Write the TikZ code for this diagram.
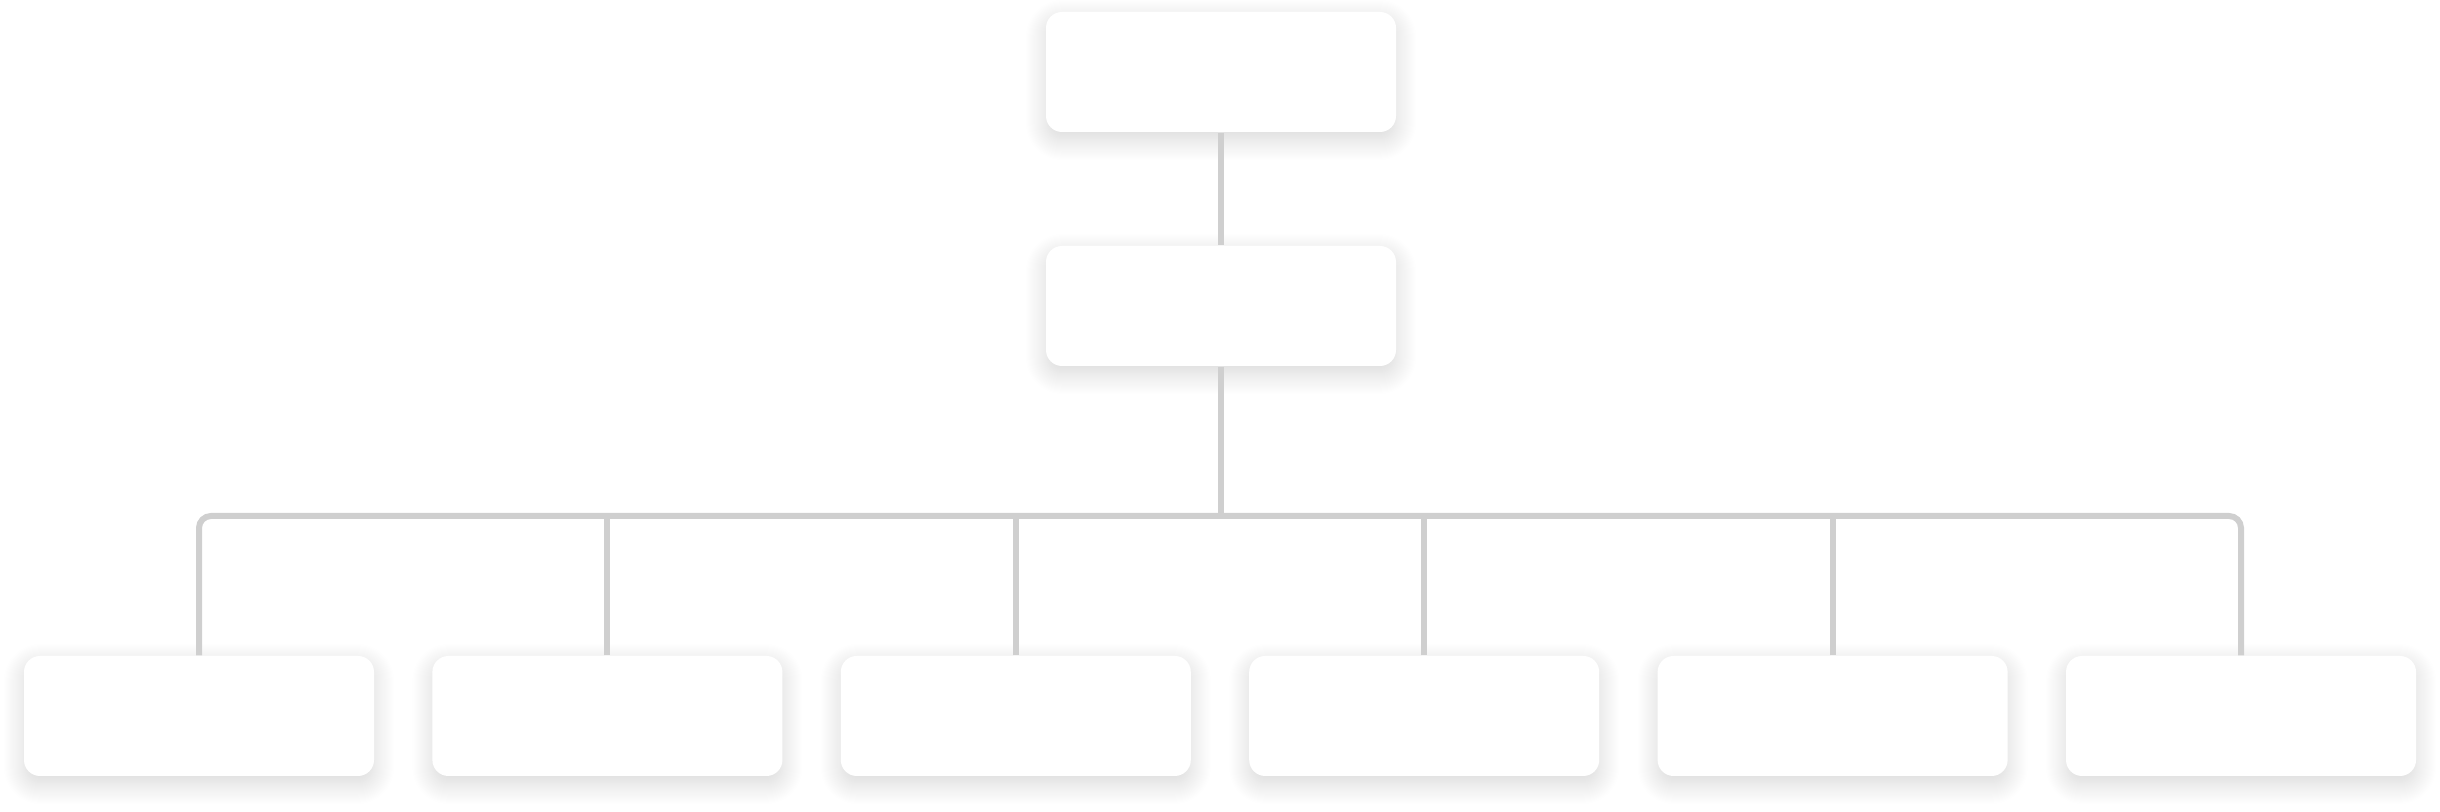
\documentclass[tikz,border=0pt]{standalone}
\usetikzlibrary{shadows.blur}
\definecolor{linkgray}{HTML}{CFCFCF}

\begin{document}
\begin{tikzpicture}[
  card/.style={fill=white, rounded corners=0.16cm, minimum width=3.5cm, minimum height=1.2cm,
    inner sep=0pt, blur shadow={shadow xshift=0pt, shadow yshift=-0.8mm, shadow blur radius=2mm,
    shadow blur steps=20, shadow opacity=16}},
  link/.style={draw=linkgray, line width=0.06cm}
]

\useasboundingbox (0,0) rectangle (24.4,8.12);

% Boxes
\node[card] (root) at (12.21,7.40) {};
\node[card] (mid)  at (12.21,5.06) {};
\foreach \i in {1,...,6}
  \node[card] (leaf\i) at ({1.99+(\i-1)*4.084},0.96) {};

% Bus
\coordinate (bus) at (12.21,2.96);

% Connectors
\draw[link] (root.south) -- (mid.north);
\draw[link] (mid.south) -- (bus);
\draw[link, rounded corners=0.12cm] (leaf1.north) -- (leaf1.north |- bus) -- (leaf6.north |- bus) -- (leaf6.north);
\foreach \i in {2,...,5}
  \draw[link] (leaf\i.north) -- (leaf\i.north |- bus);

\end{tikzpicture}
\end{document}
